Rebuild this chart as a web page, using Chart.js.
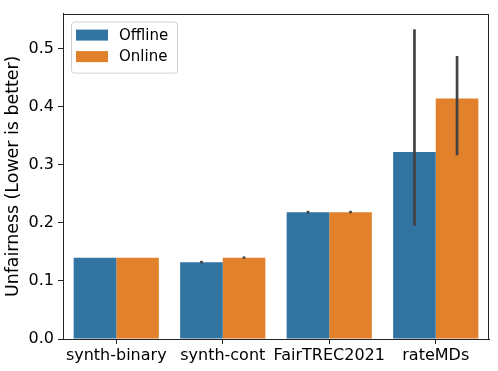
<!DOCTYPE html>
<html lang="en">
<head>
    <meta charset="UTF-8">
    <title>Unfairness</title>
    <style>
        body { margin: 0; background: #fff; }
        canvas { display: block; }
    </style>
</head>
<body>
<canvas id="grafico" width="498" height="371"></canvas>

<script src="https://cdn.jsdelivr.net/npm/chart.js"></script>
<script>
    // data
    const categorias = ['synth-binary', 'synth-cont', 'FairTREC2021', 'rateMDs'];
    const offline = [0.140, 0.132, 0.218, 0.322];
    const online = [0.140, 0.140, 0.218, 0.414];
    // error bars (low / high)
    const offlineLo = [0.140, 0.1315, 0.2175, 0.195];
    const offlineHi = [0.140, 0.1335, 0.2195, 0.533];
    const onlineLo = [0.140, 0.1385, 0.2175, 0.316];
    const onlineHi = [0.140, 0.1415, 0.2195, 0.487];
    const yTicks = [0, 0.1, 0.2, 0.3, 0.4, 0.5];

    const AZUL = '#3274a1';
    const LARANJA = '#e1812c';
    const FONTE = "'DejaVu Sans', sans-serif";

    Chart.defaults.font.family = FONTE;
    Chart.defaults.color = '#000';

    const erros = [[offlineLo, offlineHi], [onlineLo, onlineHi]];

    const pluginErros = {
        id: 'erros',
        afterDatasetsDraw(chart) {
            const ctx = chart.ctx;
            const y = chart.scales.y;
            ctx.save();
            ctx.strokeStyle = '#424242';
            ctx.lineWidth = 2.7;
            ctx.lineCap = 'butt';
            chart.data.datasets.forEach((ds, i) => {
                const meta = chart.getDatasetMeta(i);
                meta.data.forEach((bar, j) => {
                    const lo = erros[i][0][j], hi = erros[i][1][j];
                    if (hi <= lo) return; // sem erro
                    let top = y.getPixelForValue(hi);
                    let bot = y.getPixelForValue(lo);
                    if (bot - top < 2) { const m = (top + bot) / 2; top = m - 1.2; bot = m + 1.2; }
                    ctx.beginPath();
                    ctx.moveTo(bar.x, top);
                    ctx.lineTo(bar.x, bot);
                    ctx.stroke();
                });
            });
            ctx.restore();
        },
        afterDraw(chart) {
            const ctx = chart.ctx;
            const a = chart.chartArea;
            ctx.save();
            // moldura
            ctx.strokeStyle = '#222';
            ctx.lineWidth = 1;
            ctx.strokeRect(Math.round(a.left) + 0.5, Math.round(a.top) + 0.5,
                Math.round(a.right - a.left) - 1, Math.round(a.bottom - a.top));
            // legenda
            const lx = a.left + 8, ly = a.top + 8, lw = 106, lh = 51;
            ctx.fillStyle = 'rgba(255,255,255,0.8)';
            ctx.strokeStyle = '#d0d0d0';
            ctx.lineWidth = 1;
            ctx.beginPath();
            ctx.roundRect(lx + 0.5, ly + 0.5, lw, lh, 3);
            ctx.fill();
            ctx.stroke();
            const itens = chart.data.datasets;
            ctx.font = '15px ' + FONTE;
            ctx.textBaseline = 'middle';
            itens.forEach((ds, i) => {
                const cy = ly + 13.5 + i * 21.5;
                ctx.fillStyle = ds.backgroundColor;
                ctx.fillRect(lx + 5, cy - 5.5, 32, 11);
                ctx.fillStyle = '#000';
                ctx.fillText(ds.label, lx + 48, cy + 1);
            });
            ctx.restore();
        }
    };

    new Chart(document.getElementById('grafico').getContext('2d'), {
        type: 'bar',
        data: {
            labels: categorias,
            datasets: [
                { label: 'Offline', data: offline, backgroundColor: AZUL },
                { label: 'Online', data: online, backgroundColor: LARANJA }
            ]
        },
        options: {
            responsive: false,
            animation: false,
            categoryPercentage: 0.8,
            barPercentage: 1.0,
            layout: { padding: { left: 0, top: 7, right: 9, bottom: 0 } },
            plugins: {
                legend: { display: false },
                tooltip: { enabled: false }
            },
            scales: {
                x: {
                    grid: { display: true, offset: false, drawOnChartArea: false, drawTicks: true, tickLength: 5, color: '#222' },
                    border: { display: true, color: '#222', width: 1 },
                    ticks: { font: { size: 16 }, padding: 2, maxRotation: 0, autoSkip: false },
                    afterFit(scale) { scale.height = 32; }
                },
                y: {
                    min: 0,
                    max: 0.56,
                    afterBuildTicks(scale) { scale.ticks = yTicks.map(v => ({ value: v })); },
                    grid: { display: true, drawOnChartArea: false, drawTicks: true, tickLength: 5, color: '#222' },
                    border: { display: true, color: '#222', width: 1 },
                    ticks: { font: { size: 16 }, padding: 4, callback: v => v.toFixed(1) },
                    title: { display: true, text: 'Unfairness (Lower is better)', font: { size: 17.4 }, padding: { top: 3, bottom: 0 } },
                    afterFit(scale) { scale.width = 63; }
                }
            }
        },
        plugins: [pluginErros]
    });
</script>
</body>
</html>
